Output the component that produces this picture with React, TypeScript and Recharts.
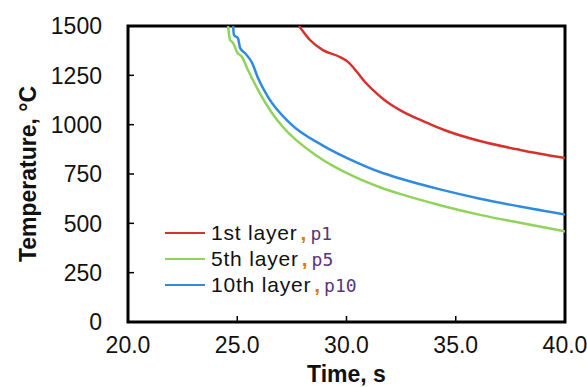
import { LineChart, Line, XAxis, YAxis, ReferenceArea, Legend } from "recharts";

const layerNames = ["1st layer", "5th layer", "10th layer"];
const layerTags = ["p1", "p5", "p10"];
const layerColors = ["#d7312e", "#8fd35a", "#2f8be0"];

const xTicks = [20, 25, 30, 35, 40];
const yTicks = [0, 250, 500, 750, 1000, 1250, 1500];

const time1 = [27.83, 28.33, 28.92, 29.7, 30.07, 30.48, 30.85, 31.21, 31.62, 31.99, 32.45, 33.27, 33.82, 34.6, 36.11, 37.94, 40];
const temp1 = [1500, 1429, 1378, 1343, 1318, 1267, 1216, 1176, 1135, 1105, 1074, 1029, 1003, 968, 917, 872, 831];

const time5 = [24.58, 24.67, 24.81, 24.99, 25.22, 25.49, 25.95, 26.59, 27.09, 28.65, 30.48, 31.53, 32.45, 34.28, 36.11, 37.94, 40];
const temp5 = [1500, 1429, 1414, 1368, 1343, 1277, 1176, 1059, 988, 841, 730, 683, 649, 592, 543, 503, 459];

const time10 = [24.81, 24.85, 25.03, 25.13, 25.35, 25.68, 25.95, 26.41, 27.41, 28.92, 30.48, 31.53, 32.45, 34.28, 36.11, 37.94, 40];
const temp10 = [1500, 1454, 1439, 1389, 1363, 1313, 1236, 1140, 1008, 894, 808, 760, 727, 672, 625, 585, 545];

const times = [time1, time5, time10];
const temps = [temp1, temp5, temp10];

const series = layerNames.map((name, i) => ({
  name,
  color: layerColors[i],
  data: times[i].map((t, j) => ({ t, T: temps[i][j] })),
}));

const FONT = "'Liberation Sans', Arial, Helvetica, sans-serif";

function XTick({ x, y, payload }: any) {
  const m = 14;
  return (
    <g>
      <line x1={x} x2={x} y1={y - m} y2={y - m - 6} stroke="#000" strokeWidth={1.5} />
      <text x={x} y={y} dy="0.72em" textAnchor="middle" fontSize={23} fontFamily={FONT} fill="#111">
        {Number(payload.value).toFixed(1)}
      </text>
    </g>
  );
}

function YTick({ x, y, payload }: any) {
  const m = 26;
  return (
    <g>
      <line x1={x + m} x2={x + m + 6} y1={y} y2={y} stroke="#000" strokeWidth={1.5} />
      <text x={x} y={y} dy="0.36em" textAnchor="end" fontSize={23} fontFamily={FONT} fill="#111">
        {payload.value}
      </text>
    </g>
  );
}

function LegendBox({ payload }: any) {
  const items = [...(payload ?? [])].sort(
    (a: any, b: any) => layerNames.indexOf(a.value) - layerNames.indexOf(b.value)
  );
  return (
    <div style={{ fontFamily: FONT }}>
      {items.map((p: any) => {
        const i = layerNames.indexOf(p.value);
        return (
          <div key={p.value} style={{ display: "flex", alignItems: "center", height: 26 }}>
            <svg width={40} height={4} style={{ marginRight: 6 }}>
              <line x1={0} x2={40} y1={2} y2={2} stroke={p.color} strokeWidth={2} />
            </svg>
            <span style={{ fontSize: 21, letterSpacing: 0.8, color: "#111" }}>{p.value}</span>
            <span style={{ fontSize: 21, color: "#e07a00", marginLeft: 3, fontWeight: "bold" }}>,</span>
            <span
              style={{
                fontSize: 18,
                color: "#5c3579",
                fontFamily: "'DejaVu Sans Mono', monospace",
                marginLeft: 4,
              }}
            >
              {layerTags[i]}
            </span>
          </div>
        );
      })}
    </div>
  );
}

export default function App() {
  return (
    <div style={{ position: "absolute", left: 0, top: 0, background: "#fff" }}>
      <LineChart width={587} height={387} margin={{ top: 26, right: 22, bottom: 25, left: 0 }}>
        <XAxis
          dataKey="t"
          type="number"
          domain={[20, 40]}
          ticks={xTicks}
          allowDataOverflow
          height={40}
          tickSize={0}
          tickMargin={14}
          axisLine={false}
          tickLine={false}
          tick={<XTick />}
          label={{
            content: ({ viewBox }: any) => (
              <text
                x={viewBox.x + viewBox.width / 2}
                y={viewBox.y + 43}
                dy="0.72em"
                textAnchor="middle"
                fontSize={23}
                fontWeight="bold"
                fontFamily={FONT}
                fill="#111"
              >
                Time, s
              </text>
            ),
          }}
        />
        <YAxis
          type="number"
          domain={[0, 1500]}
          ticks={yTicks}
          allowDataOverflow
          width={128}
          tickSize={0}
          tickMargin={26}
          axisLine={false}
          tickLine={false}
          tick={<YTick />}
          label={{
            content: ({ viewBox }: any) => {
              const cx = viewBox.x + 28;
              const cy = viewBox.y + viewBox.height / 2;
              return (
                <text
                  x={cx}
                  y={cy}
                  dy="0.36em"
                  transform={`rotate(-90 ${cx} ${cy})`}
                  textAnchor="middle"
                  fontSize={23}
                  fontWeight="bold"
                  fontFamily={FONT}
                  fill="#111"
                >
                  Temperature, °C
                </text>
              );
            },
          }}
        />
        {series.map((s) => (
          <Line
            key={s.name}
            data={s.data}
            dataKey="T"
            name={s.name}
            type="monotone"
            stroke={s.color}
            strokeWidth={2.5}
            dot={false}
            activeDot={false}
            isAnimationActive={false}
          />
        ))}
        <ReferenceArea x1={20} x2={40} y1={0} y2={1500} fill="none" stroke="#000" strokeWidth={3} />
        <Legend
          layout="vertical"
          align="center"
          verticalAlign="middle"
          content={<LegendBox />}
          wrapperStyle={{ left: 165, top: 220, width: 260 }}
        />
      </LineChart>
    </div>
  );
}
